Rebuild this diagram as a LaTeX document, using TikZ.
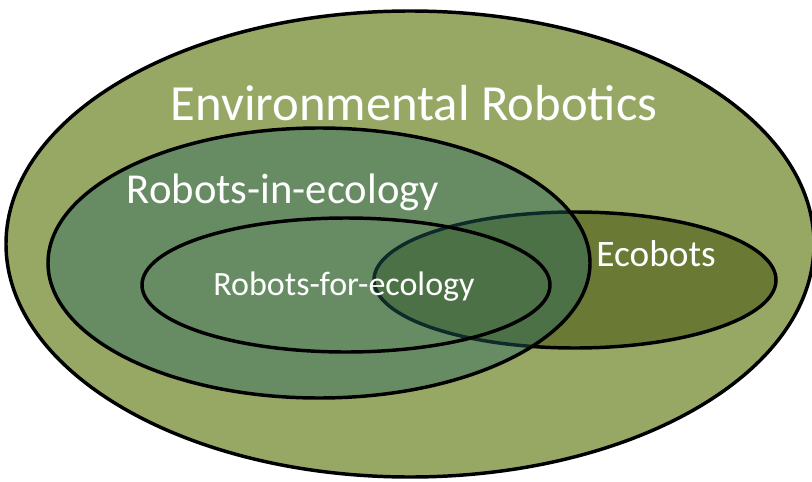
\documentclass[tikz,border=0pt]{standalone}
\usepackage{fontspec}
\setmainfont{Carlito}
\definecolor{outergreen}{RGB}{151,168,101}
\definecolor{ecobotgreen}{RGB}{106,122,53}
\definecolor{ecoteal}{RGB}{37,102,97}
\begin{document}
\begin{tikzpicture}[x=0.75pt,y=-0.75pt,
	rim/.style={line width=2.6pt, draw=black},
	vennlabel/.style={text=white, inner sep=0pt}]
	\useasboundingbox (0,0) rectangle (812,481);
	\fill[white] (0,0) rectangle (812,481);
	%Centres of the ellipses
	\coordinate (envc) at (410,244);
	\coordinate (inc) at (319,263);
	\coordinate (forc) at (346,285);
	\coordinate (ecoc) at (575,280);
	%Outer hull
	\draw[rim, fill=outergreen] (envc) ellipse [x radius=404, y radius=233];
	%Ecobots below the transparent layer
	\draw[rim, fill=ecobotgreen] (ecoc) ellipse [x radius=201, y radius=68];
	%Robots-in-ecology, see-through
	\draw[rim, fill=ecoteal, fill opacity=0.42] (inc) ellipse [x radius=271, y radius=135];
	%Robots-for-ecology, outline only
	\draw[rim] (forc) ellipse [x radius=204, y radius=67];
	%The labels
	\node[vennlabel] (env) at (414,103) {\fontsize{38}{44}\selectfont Environmental Robotics};
	\node[vennlabel] (in) at (283,192) {\fontsize{32}{38}\selectfont Robots-in-ecology};
	\node[vennlabel] (for) at (344,287) {\fontsize{25.5}{30}\selectfont Robots-for-ecology};
	\node[vennlabel] (eco) at (656,254) {\fontsize{28}{34}\selectfont Ecobots};
\end{tikzpicture}
\end{document}
